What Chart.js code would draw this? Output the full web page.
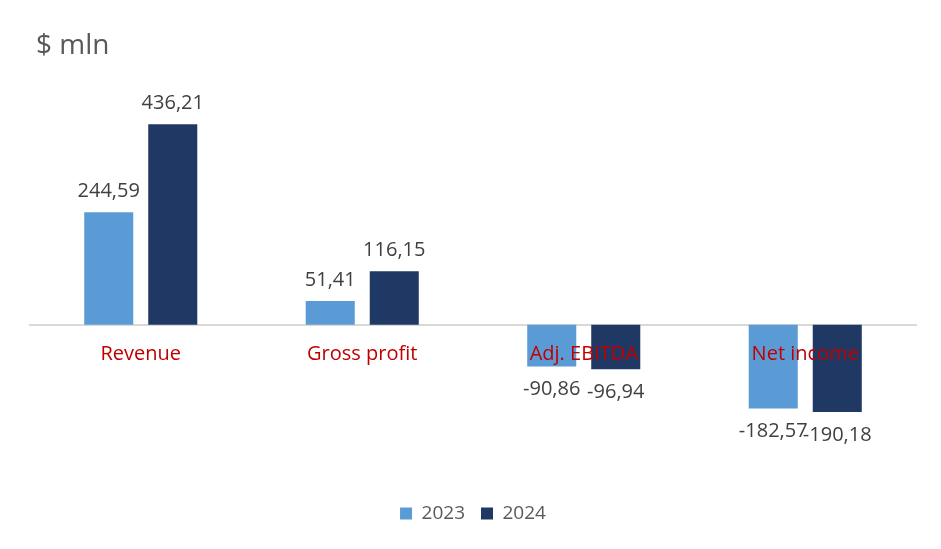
<!DOCTYPE html>
<html>
<head>
<meta charset="utf-8">
<script src="https://cdn.jsdelivr.net/npm/chart.js@4.4.1/dist/chart.umd.min.js"></script>
<style>
  html, body { margin: 0; padding: 0; background: #fff; }
  #wrap { width: 941px; height: 549px; }
</style>
</head>
<body>
<div id="wrap"><canvas id="chart" width="941" height="549"></canvas></div>
<script>
const categories = ["Revenue", "Gross profit", "Adj. EBITDA", "Net income"];
const values2023 = [244.59, 51.41, -90.86, -182.57];
const values2024 = [436.21, 116.15, -96.94, -190.18];
const seriesNames = ["2023", "2024"];

const FONT = "'Open Sans', 'Noto Sans', sans-serif";

function fmt(v) {
    return v.toFixed(2).replace(".", ",");
}

// title, value labels and category names drawn on top of the bars
const overlay = {
    id: "overlay",
    afterDatasetsDraw(chart) {
        const ctx = chart.ctx;
        ctx.save();
        ctx.font = "28px " + FONT;
        ctx.fillStyle = "#595959";
        ctx.textAlign = "left";
        ctx.textBaseline = "middle";
        ctx.fillText("$ mln", 36, 46);

        ctx.font = "20px " + FONT;
        ctx.fillStyle = "#404040";
        ctx.textAlign = "center";
        chart.data.datasets.forEach((ds, i) => {
            chart.getDatasetMeta(i).data.forEach((bar, j) => {
                const v = ds.data[j];
                if (v >= 0) {
                    ctx.textBaseline = "bottom";
                    ctx.fillText(fmt(v), bar.x, bar.y - 11);
                } else {
                    ctx.textBaseline = "top";
                    ctx.fillText(fmt(v), bar.x, bar.y + 13);
                }
            });
        });

        const xs = chart.scales.x;
        const zero = chart.scales.y.getPixelForValue(0);
        ctx.font = "20px " + FONT;
        ctx.fillStyle = "#C00000";
        ctx.textBaseline = "middle";
        categories.forEach((c, j) => {
            ctx.fillText(c, xs.getPixelForValue(j), zero + 30);
        });
        ctx.restore();
    }
};

new Chart(document.getElementById("chart").getContext("2d"), {
    type: "bar",
    data: {
        labels: categories,
        datasets: [
            {
                label: seriesNames[0],
                data: values2023,
                backgroundColor: "#5B9BD5",
                categoryPercentage: 0.578,
                barPercentage: 0.766
            },
            {
                label: seriesNames[1],
                data: values2024,
                backgroundColor: "#1F3864",
                categoryPercentage: 0.578,
                barPercentage: 0.766
            }
        ]
    },
    options: {
        responsive: false,
        animation: false,
        layout: { padding: { top: 95, left: 30, right: 25, bottom: 16 } },
        scales: {
            x: {
                position: { y: 0 },
                grid: { display: false, drawTicks: false },
                border: { display: true, color: "#D9D9D9", width: 2 },
                ticks: { display: false }
            },
            y: {
                display: false,
                min: -355.5,
                max: 500
            }
        },
        plugins: {
            legend: {
                position: "bottom",
                labels: {
                    boxWidth: 12,
                    boxHeight: 12,
                    padding: 16,
                    color: "#595959",
                    font: { family: FONT, size: 19 }
                }
            },
            tooltip: { enabled: false }
        }
    },
    plugins: [overlay]
});
</script>
</body>
</html>
